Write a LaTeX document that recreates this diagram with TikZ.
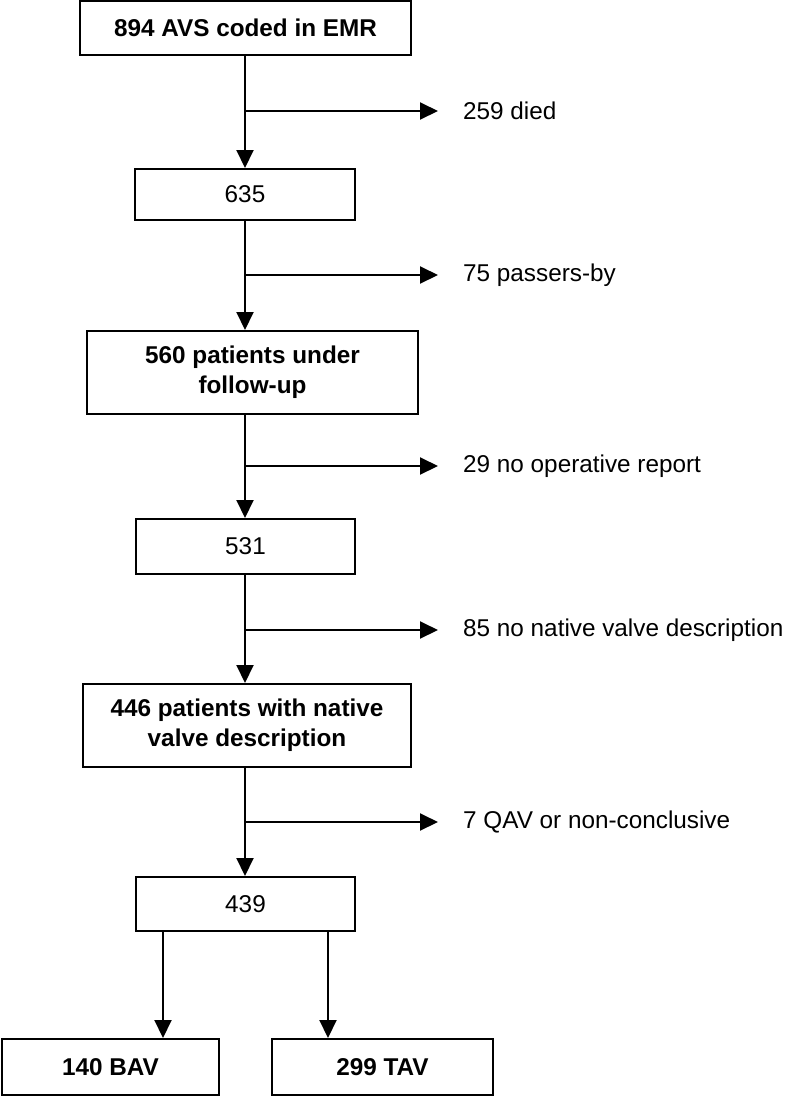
\documentclass[tikz,border=0pt]{standalone}
\usepackage{fontspec}
\setmainfont{Liberation Sans}
\usepackage{tikz}
\usetikzlibrary{arrows.meta}
\usetikzlibrary{positioning}
\tikzstyle{box} = [draw, line width=2pt, align=center, inner sep=0pt, font=\fontsize{24.3}{30}\selectfont]
\tikzstyle{boldbox} = [box, font=\fontsize{24.3}{30}\selectfont\bfseries]
\tikzstyle{flow} = [line width=2pt, -{Triangle[length=18pt,width=17pt]}]
\tikzstyle{note} = [anchor=west, inner sep=0pt, font=\fontsize{24.3}{30}\selectfont]

\begin{document}
\begin{tikzpicture}[x=1pt, y=-1pt]
                \useasboundingbox (0,0) rectangle (786,1096);
                
                % main column
                \node[boldbox, minimum width=331pt, minimum height=54pt] (coded) at (245.5,28) {894 AVS coded in EMR};
                \node[box, minimum width=220pt, minimum height=51pt] (n635) at (245,194.5) {635};
                \node[boldbox, minimum width=331pt, minimum height=83pt] (followup) at (252.5,372.5) {560 patients under\\follow-up};
                \node[box, minimum width=219pt, minimum height=55pt] (n531) at (245.5,546.5) {531};
                \node[boldbox, minimum width=328pt, minimum height=83pt] (native) at (247,725.5) {446 patients with native\\valve description};
                \node[box, minimum width=219pt, minimum height=54pt] (n439) at (245.5,904) {439};
                \node[boldbox, minimum width=217pt, minimum height=56pt] (bav) at (110.5,1067) {140 BAV};
                \node[boldbox, minimum width=221pt, minimum height=56pt] (tav) at (382.5,1067) {299 TAV};
                
                % exclusions
                \node[note] (died) at (463,111) {259 died};
                \node[note] (passers) at (463,275) {75 passers-by};
                \node[note] (noreport) at (463,466) {29 no operative report};
                \node[note] (novalve) at (463,630) {85 no native valve description};
                \node[note] (qav) at (463,822) {7 QAV or non-conclusive};
                
                \coordinate (j1) at (245,111);
                \coordinate (j2) at (245,275);
                \coordinate (j3) at (245,466);
                \coordinate (j4) at (245,630);
                \coordinate (j5) at (245,822);
                
                \draw[line width=2pt] (coded.south -| j1) -- (j1);
                \draw[flow] (j1) -- (n635.north -| j1);
                \draw[flow] (j1) -- ([xshift=-25pt]died.west);
                
                \draw[line width=2pt] (n635.south -| j2) -- (j2);
                \draw[flow] (j2) -- (followup.north -| j2);
                \draw[flow] (j2) -- ([xshift=-25pt]passers.west);
                
                \draw[line width=2pt] (followup.south -| j3) -- (j3);
                \draw[flow] (j3) -- (n531.north -| j3);
                \draw[flow] (j3) -- ([xshift=-25pt]noreport.west);
                
                \draw[line width=2pt] (n531.south -| j4) -- (j4);
                \draw[flow] (j4) -- (native.north -| j4);
                \draw[flow] (j4) -- ([xshift=-25pt]novalve.west);
                
                \draw[line width=2pt] (native.south -| j5) -- (j5);
                \draw[flow] (j5) -- (n439.north -| j5);
                \draw[flow] (j5) -- ([xshift=-25pt]qav.west);
                
                % split
                \draw[flow] ([xshift=-82.5pt]n439.south) -- ([xshift=-82.5pt]n439.south |- bav.north);
                \draw[flow] ([xshift=82.5pt]n439.south) -- ([xshift=82.5pt]n439.south |- tav.north);
            \end{tikzpicture}
\end{document}
